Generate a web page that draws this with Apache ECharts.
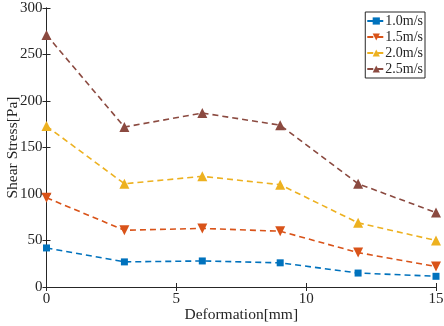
<!DOCTYPE html>
<html>
<head>
<meta charset="utf-8">
<script src="https://cdn.jsdelivr.net/npm/echarts@6/dist/echarts.min.js"></script>
<style>
  html, body { margin: 0; padding: 0; background: #fff; }
  #chart { width: 444px; height: 326px; }
</style>
</head>
<body>
<div id="chart"></div>
<script>
const deformation = [0, 3, 6, 9, 12, 15];
const v10 = [42, 27, 28, 26, 15, 11.5];
const v15 = [96, 61, 63, 60, 37, 22];
const v20 = [173, 111, 119, 110, 69, 50];
const v25 = [271, 172, 187, 174, 111, 80];
const seriesNames = ['1.0m/s', '1.5m/s', '2.0m/s', '2.5m/s'];

const font = 'Liberation Serif';
const axisColor = '#262626';

function line(name, values, color, symbol, rotate) {
  return {
    name: name,
    type: 'line',
    data: deformation.map((d, i) => [d, values[i]]),
    symbol: symbol,
    symbolRotate: rotate || 0,
    symbolSize: symbol === 'rect' ? 7 : 10,
    itemStyle: { color: color },
    lineStyle: { color: color, width: 1.6, type: [6, 4] },
    xAxisIndex: 0,
    yAxisIndex: 0,
  };
}

const chart = echarts.init(document.getElementById('chart'));
chart.setOption({
  animation: false,
  grid: { left: 46.5, right: 8, top: 8, bottom: 39, outerBoundsMode: 'none', containLabel: false },
  legend: {
    data: seriesNames,
    orient: 'vertical',
    right: 19,
    top: 12,
    itemWidth: 18,
    itemHeight: 9,
    itemGap: 2,
    padding: [2, 2, 2, 1],
    borderColor: axisColor,
    borderWidth: 1,
    backgroundColor: '#fff',
    textStyle: { fontFamily: font, fontSize: 14, color: axisColor, padding: [0, 0, 0, -5] },
  },
  xAxis: [
    {
      type: 'value', min: 0, max: 15, interval: 5,
      name: 'Deformation[mm]', nameLocation: 'middle', nameGap: 20, nameMoveOverlap: false,
      nameTextStyle: { fontFamily: font, fontSize: 15.5, color: axisColor },
      axisLine: { lineStyle: { color: axisColor, width: 1 } },
      axisTick: { inside: true, length: 4, lineStyle: { color: axisColor } },
      axisLabel: { fontFamily: font, fontSize: 15, color: axisColor, margin: 5 },
      splitLine: { show: false },
    },
    {
      type: 'value', min: 0, max: 15, interval: 5, position: 'top',
      axisLine: { lineStyle: { color: axisColor, width: 1 } },
      axisTick: { inside: true, length: 4, lineStyle: { color: axisColor } },
      axisLabel: { show: false },
      splitLine: { show: false },
    },
  ],
  yAxis: [
    {
      type: 'value', min: 0, max: 300, interval: 50,
      name: 'Shear Stress[Pa]', nameLocation: 'middle', nameGap: 26, nameMoveOverlap: false,
      nameTextStyle: { fontFamily: font, fontSize: 15.5, color: axisColor },
      axisLine: { show: true, lineStyle: { color: axisColor, width: 1 } },
      axisTick: { show: true, inside: true, length: 4, lineStyle: { color: axisColor } },
      axisLabel: { fontFamily: font, fontSize: 15, color: axisColor, margin: 4 },
      splitLine: { show: false },
    },
    {
      type: 'value', min: 0, max: 300, interval: 50, position: 'right',
      axisLine: { show: true, lineStyle: { color: axisColor, width: 1 } },
      axisTick: { show: true, inside: true, length: 4, lineStyle: { color: axisColor } },
      axisLabel: { show: false },
      splitLine: { show: false },
    },
  ],
  series: [
    line(seriesNames[0], v10, '#0072BD', 'rect'),
    line(seriesNames[1], v15, '#D95319', 'triangle', 180),
    line(seriesNames[2], v20, '#EDB120', 'triangle'),
    line(seriesNames[3], v25, '#8B4A40', 'triangle'),
  ],
});
</script>
</body>
</html>
